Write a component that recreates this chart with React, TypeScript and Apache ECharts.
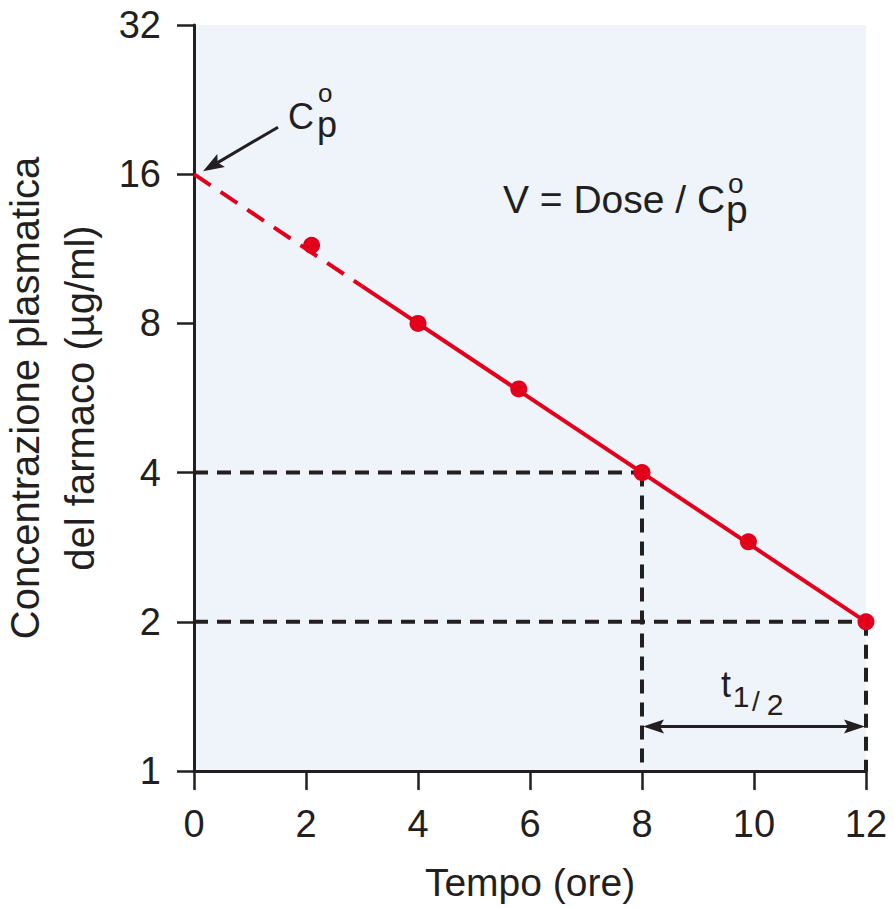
import React, { useEffect, useRef } from "react";
import * as echarts from "echarts";

// ---- data ----
const timeTicks = [0, 2, 4, 6, 8, 10, 12];
const concTicks = [1, 2, 4, 8, 16, 32];
const sampleTimes = [2.1, 4, 5.8, 8, 9.9, 12];
const sampleConc = [11.5, 8, 5.9, 4, 2.9, 2];
const fitExtrapolated = [[0, 16], [3, 9.51]];
const fitObserved = [[3, 9.51], [12, 2]];
const refLineConc4 = [[0, 4], [8, 4]];
const refLineTime8 = [[8, 4], [8, 1]];
const refLineConc2 = [[0, 2], [12, 2]];
const refLineTime12 = [[12, 2], [12, 1]];
const halfLifeFrom = [8, 1.23];
const halfLifeTo = [12, 1.23];
const initialConc = [0, 16];

const RED = "#e2001a";
const INK = "#231f20";
const BG = "#eff3fa";
const FONT = '"Liberation Sans", Arial, Helvetica, sans-serif';

function arrowHead(tip: number[], from: number[], len: number, half: number, notch: number) {
  const dx = tip[0] - from[0];
  const dy = tip[1] - from[1];
  const L = Math.hypot(dx, dy);
  const ux = dx / L, uy = dy / L;
  const nx = -uy, ny = ux;
  const bx = tip[0] - ux * len, by = tip[1] - uy * len;
  const base = [tip[0] - ux * (len - notch), tip[1] - uy * (len - notch)];
  return {
    points: [tip, [bx + nx * half, by + ny * half], base, [bx - nx * half, by - ny * half]],
    base,
  };
}

function txt(text: string, x: number, y: number, size: number, align = "left", lineHeight?: number) {
  return {
    type: "text",
    x,
    y,
    z: 100,
    style: {
      text,
      fontSize: size,
      fontFamily: FONT,
      fill: INK,
      textAlign: align,
      textVerticalAlign: "middle",
      lineHeight: lineHeight ?? size,
    },
  };
}

export default function App() {
  const ref = useRef<HTMLDivElement>(null);
  useEffect(() => {
    document.body.style.margin = "0";
    const el = ref.current!;
    const chart = echarts.init(el, null, { renderer: "svg" });
    const dashedRef = (data: number[][]) => ({
      type: "line",
      data,
      symbol: "none",
      silent: true,
      z: 2,
      lineStyle: { color: INK, width: 4, type: [14, 9] },
    });
    chart.setOption({
      animation: false,
      grid: {
        left: 194,
        right: 28,
        top: 25,
        bottom: 137,
        show: true,
        backgroundColor: BG,
        borderWidth: 0,
        outerBoundsMode: "none",
      },
      xAxis: {
        type: "value",
        min: timeTicks[0],
        max: timeTicks[timeTicks.length - 1],
        interval: 2,
        name: "Tempo (ore)",
        nameLocation: "middle",
        nameGap: 92,
        nameMoveOverlap: false,
        nameTextStyle: { fontSize: 39, fontFamily: FONT, color: INK },
        axisLine: { show: true, onZero: false, lineStyle: { color: INK, width: 3 } },
        axisTick: { show: true, inside: false, length: 19, lineStyle: { color: INK, width: 2.5 } },
        axisLabel: { fontSize: 38, fontFamily: FONT, color: INK, margin: 34 },
        splitLine: { show: false },
      },
      yAxis: {
        type: "log",
        logBase: 2,
        min: concTicks[0],
        max: concTicks[concTicks.length - 1],
        splitNumber: 5,
        name: "Concentrazione plasmatica\ndel farmaco (µg/ml)",
        nameLocation: "middle",
        nameRotate: 90,
        nameGap: 87,
        nameMoveOverlap: false,
        nameTextStyle: { fontSize: 40, fontFamily: FONT, color: INK, lineHeight: 55 },
        axisLine: { show: true, onZero: false, lineStyle: { color: INK, width: 3 } },
        axisTick: { show: true, inside: false, length: 17, lineStyle: { color: INK, width: 2.5 } },
        axisLabel: {
          fontSize: 38,
          fontFamily: FONT,
          color: INK,
          margin: 33,
          formatter: (v: number) => String(Math.round(v)),
        },
        splitLine: { show: false },
        minorTick: { show: false },
      },
      series: [
        dashedRef(refLineConc4),
        dashedRef(refLineTime8),
        dashedRef(refLineConc2),
        dashedRef(refLineTime12),
        {
          type: "line",
          data: fitExtrapolated,
          symbol: "none",
          z: 3,
          lineStyle: { color: RED, width: 4, type: [20, 12], opacity: 1 },
        },
        {
          type: "line",
          data: fitObserved,
          symbol: "none",
          z: 3,
          lineStyle: { color: RED, width: 4, type: "solid", opacity: 1 },
        },
        {
          type: "scatter",
          data: sampleTimes.map((t, i) => [t, sampleConc[i]]),
          symbol: "circle",
          symbolSize: 17,
          z: 4,
          itemStyle: { color: RED, opacity: 1 },
        },
      ],
    });

    const px = (p: number[]) => chart.convertToPixel({ gridIndex: 0 }, p) as number[];

    // arrow to C0p
    const p0 = px(initialConc);
    const tip1 = [p0[0] + 9, p0[1] - 3];
    const tail1 = [p0[0] + 84, p0[1] - 47];
    const head1 = arrowHead(tip1, tail1, 21, 7.5, 4);

    // half-life double arrow
    const a = px(halfLifeFrom);
    const b = px(halfLifeTo);
    const hl = arrowHead([a[0] + 1, a[1]], b, 21, 7, 4);
    const hr = arrowHead([b[0] - 1, b[1]], a, 21, 7, 4);
    const mid = [(a[0] + b[0]) / 2, a[1]];

    chart.setOption({
      graphic: [
        {
          type: "line",
          z: 100,
          shape: { x1: tail1[0], y1: tail1[1], x2: head1.base[0], y2: head1.base[1] },
          style: { stroke: INK, lineWidth: 3 },
        },
        { type: "polygon", z: 100, shape: { points: head1.points }, style: { fill: INK } },
        txt("C", 288, 116, 36, "left", 28),
        txt("o", 318, 93, 26, "left", 14),
        txt("p", 317, 124, 36, "left", 18),

        txt("V = Dose / C", 503, 199, 39, "left", 30),
        txt("o", 728, 183, 28, "left", 14),
        txt("p", 726, 209, 39, "left", 20),

        {
          type: "line",
          z: 100,
          shape: { x1: hl.base[0], y1: hl.base[1], x2: hr.base[0], y2: hr.base[1] },
          style: { stroke: INK, lineWidth: 3 },
        },
        { type: "polygon", z: 100, shape: { points: hl.points }, style: { fill: INK } },
        { type: "polygon", z: 100, shape: { points: hr.points }, style: { fill: INK } },
        txt("t", mid[0] - 28, mid[1] - 42, 36, "center", 26),
        txt("1", mid[0] - 13, mid[1] - 30, 30, "center", 22),
        txt("/", mid[0] + 2, mid[1] - 25, 28, "center", 20),
        txt("2", mid[0] + 21, mid[1] - 22, 30, "center", 22),
      ],
    });

    return () => chart.dispose();
  }, []);
  return <div ref={ref} style={{ width: 894, height: 908 }} />;
}
